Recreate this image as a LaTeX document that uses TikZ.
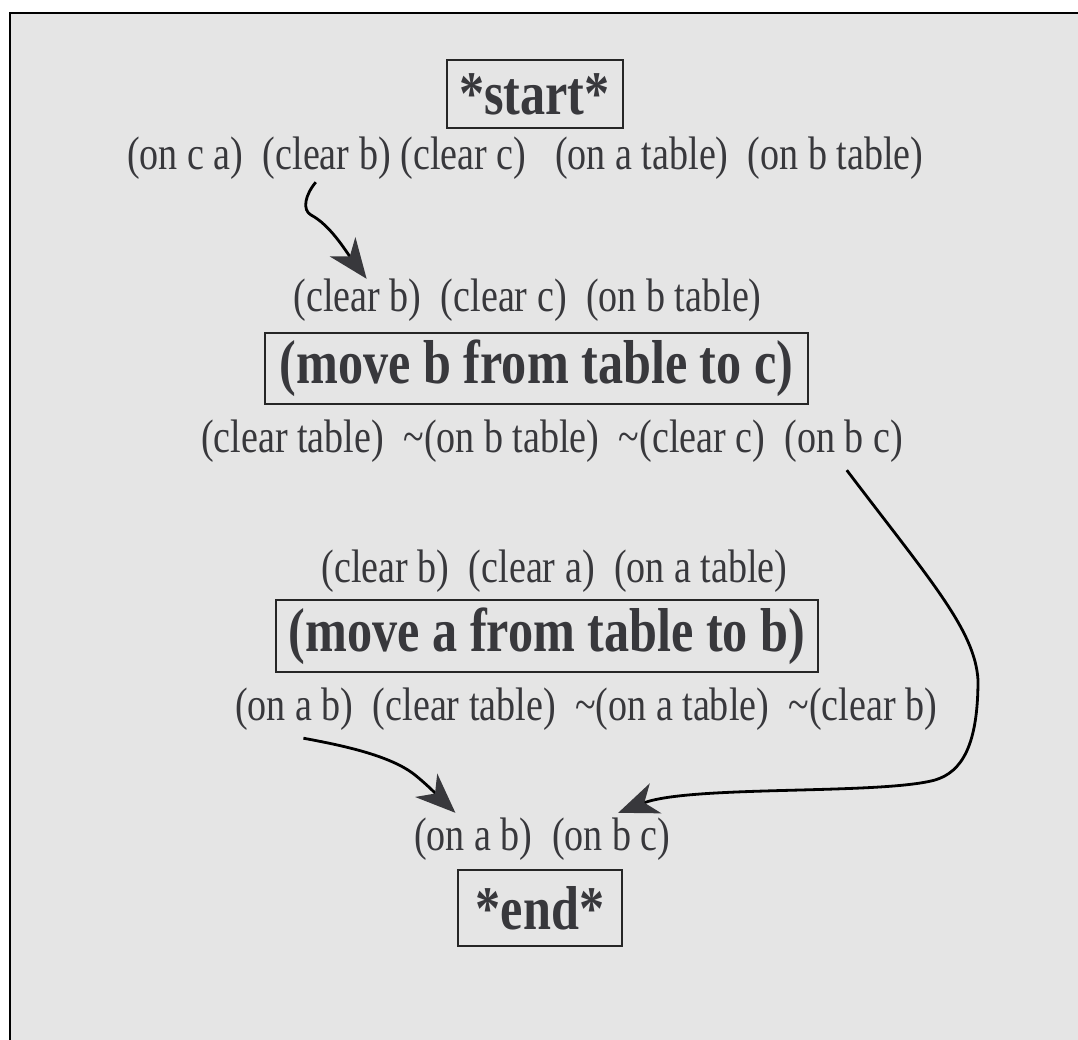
\documentclass[tikz,border=0pt]{standalone}
\usepackage{fontspec}
\setmainfont{Liberation Serif}[FakeStretch=0.81]
\usetikzlibrary{arrows.meta, positioning}
\definecolor{panelgray}{HTML}{E5E5E5}
\definecolor{inkgray}{HTML}{38383C}

\begin{document}
\begin{tikzpicture}[
    x=1pt, y=-1pt,
    lit/.style={inner sep=0pt, text=inkgray, font=\fontsize{47}{56}\selectfont, text height=35pt, text depth=12pt},
    action/.style={rectangle, draw=black!85, line width=2pt, inner sep=0pt, text=inkgray, font=\fontsize{62}{72}\selectfont\bfseries},
    link/.style={-{Stealth[length=40pt, width=32pt, inset=12pt, color=inkgray]}, line width=2.8pt, black}
]
    % Panel
    \useasboundingbox (0,0) rectangle (1078,1040);
    \fill[white] (0,0) rectangle (1078,1040);
    \begin{scope}
        \clip (0,0) rectangle (1078,1040);
        \draw[fill=panelgray, line width=2.5pt] (10,13) rectangle (1100,1060);
    \end{scope}

    % Start state
    \node[action, minimum width=176pt, minimum height=68pt] (start) at (534.5,94) {*start*};
    \node[lit, anchor=base west] (s1) at (127,170) {(on c a)};
    \node[lit, base right=19pt of s1] (s2) {(clear b)};
    \node[lit, base right=9.5pt of s2] (s3) {(clear c)};
    \node[lit, base right=28.5pt of s3] (s4) {(on a table)};
    \node[lit, base right=19pt of s4] (s5) {(on b table)};

    % Move b from table to c
    \node[lit, anchor=base west] (bpre1) at (293.5,312) {(clear b)};
    \node[lit, base right=19pt of bpre1] (bpre2) {(clear c)};
    \node[lit, base right=19pt of bpre2] (bpre3) {(on b table)};
    \node[action, minimum width=543pt, minimum height=71pt] (moveb) at (536.5,368.5) {(move b from table to c)};
    \node[lit, anchor=base west] (bpost1) at (201,452) {(clear table)};
    \node[lit, base right=19pt of bpost1] (bpost2) {\textasciitilde(on b table)};
    \node[lit, base right=19pt of bpost2] (bpost3) {\textasciitilde(clear c)};
    \node[lit, base right=19pt of bpost3] (bpost4) {(on b c)};

    % Move a from table to b
    \node[lit, anchor=base west] (apre1) at (321.5,582) {(clear b)};
    \node[lit, base right=19pt of apre1] (apre2) {(clear a)};
    \node[lit, base right=19pt of apre2] (apre3) {(on a table)};
    \node[action, minimum width=542pt, minimum height=72pt] (movea) at (547,636) {(move a from table to b)};
    \node[lit, anchor=base west] (apost1) at (235,720) {(on a b)};
    \node[lit, base right=19pt of apost1] (apost2) {(clear table)};
    \node[lit, base right=19pt of apost2] (apost3) {\textasciitilde(on a table)};
    \node[lit, base right=19pt of apost3] (apost4) {\textasciitilde(clear b)};

    % End state
    \node[lit, anchor=base west] (goal1) at (414,850) {(on a b)};
    \node[lit, base right=19pt of goal1] (goal2) {(on b c)};
    \node[action, minimum width=164pt, minimum height=76pt] (end) at (540,908) {*end*};

    % Causal links
    \draw[link] ([xshift=-11pt]s2.south) .. controls (305,195) and (302,210) .. (311,215)
        .. controls (330,225) and (345,250) .. ([xshift=9pt, yshift=-2pt]bpre1.north);
    \draw[link] ([xshift=3pt, yshift=-6pt]bpost4.south) .. controls (930,580) and (975,630) .. (978,680)
        .. controls (978,745) and (962,772) .. (935,780)
        .. controls (880,795) and (690,785) .. ([xshift=7pt, yshift=2pt]goal2.north);
    \draw[link] ([xshift=9pt, yshift=-6pt]apost1.south) .. controls (340,745) and (390,755) .. (415,775)
        .. controls (430,787) and (445,803) .. ([xshift=-18pt, yshift=2pt]goal1.north);
\end{tikzpicture}
\end{document}
